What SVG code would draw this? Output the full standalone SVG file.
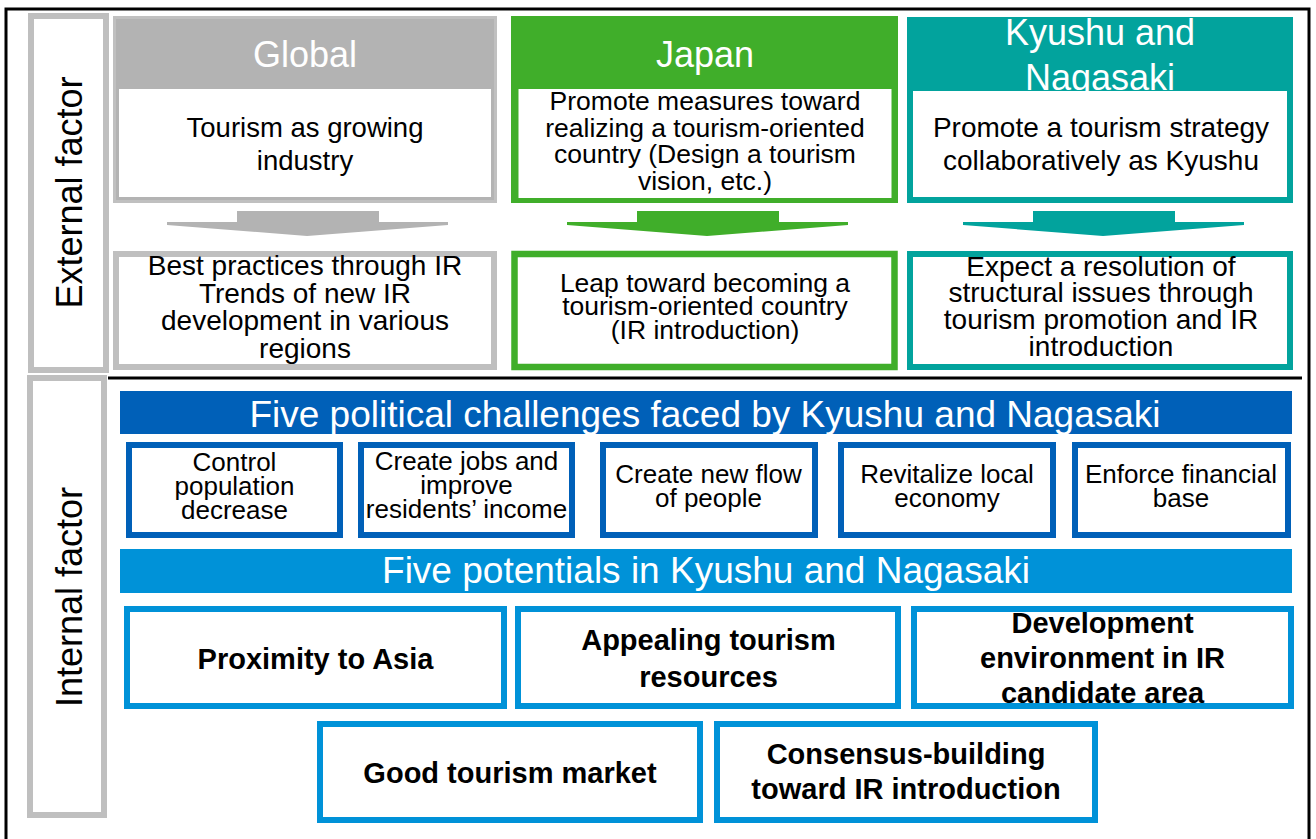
<svg xmlns="http://www.w3.org/2000/svg" width="1316" height="839" viewBox="0 0 1316 839">
<style>
text{font-family:"Liberation Sans",Arial,sans-serif;text-anchor:middle;}
.hd{fill:#fff;font-size:36px;}
.bar{fill:#fff;font-size:37px;}
.lbl{fill:#000;font-size:36px;}
.ch{fill:#000;font-size:26px;}
.pt{fill:#000;font-size:29px;font-weight:bold;}
.wb{fill:#fff;}
.gray{fill:#fff;stroke:#bfbfbf;stroke-width:6;}
.cb{fill:none;stroke:#0060b8;stroke-width:6;}
.pb{fill:none;stroke:#0092d8;stroke-width:6;}
</style>
<defs>
<polygon id="arr" points="70,0 212,0 212,11 281,11 281,14 140,25 0,14 0,11 70,11"/>
</defs>
<rect width="1316" height="839" fill="#fff"/>
<rect x="6" y="9" width="1303" height="840" fill="none" stroke="#000" stroke-width="3"/>

<g id="external-label">
<rect class="gray" x="31" y="16" width="75" height="354"/>
<text class="lbl" transform="translate(82,192.5) rotate(-90)">External factor</text>
</g>
<g id="internal-label">
<rect class="gray" x="30" y="378" width="74" height="437"/>
<text class="lbl" transform="translate(82,597) rotate(-90)">Internal factor</text>
</g>
<g id="divider">
<line x1="108" y1="378" x2="1302" y2="378" stroke="#000" stroke-width="3"/>
</g>

<g id="global-top">
<rect x="114.5" y="17.5" width="381" height="184" fill="#b3b3b3" stroke="#c0c0c0" stroke-width="3"/>
<text class="hd" x="305" y="67">Global</text>
<rect class="wb" x="119" y="89" width="372" height="108"/>
<text font-size="27.5" x="305" y="137">Tourism as growing</text>
<text font-size="27.5" x="305" y="170">industry</text>
</g>
<g id="japan-top">
<rect x="511" y="16" width="387" height="187" fill="#40ae2a"/>
<text class="hd" x="705" y="67">Japan</text>
<rect class="wb" x="518.5" y="89" width="373" height="109"/>
<g font-size="26.5">
<text x="705" y="110">Promote measures toward</text>
<text x="705" y="136.5">realizing a tourism-oriented</text>
<text x="705" y="163">country (Design a tourism</text>
<text x="705" y="189.5">vision, etc.)</text>
</g>
</g>
<g id="kyushu-top">
<rect x="907" y="17" width="386" height="186" fill="#02a39d"/>
<text class="hd" x="1100" y="45">Kyushu and</text>
<text class="hd" x="1100" y="90">Nagasaki</text>
<rect class="wb" x="913" y="91" width="374" height="106"/>
<text font-size="28" x="1101" y="137">Promote a tourism strategy</text>
<text font-size="28" x="1101" y="170">collaboratively as Kyushu</text>
</g>

<g id="connectors">
<use href="#arr" x="167" y="211" fill="#b3b3b3"/>
<use href="#arr" x="567" y="211" fill="#40ae2a"/>
<use href="#arr" x="963" y="211" fill="#02a39d"/>
</g>

<g id="global-bottom">
<rect x="116" y="254" width="378" height="113" fill="#fff" stroke="#bfbfbf" stroke-width="6"/>
<g font-size="28">
<text x="305" y="275">Best practices through IR</text>
<text x="305" y="303">Trends of new IR</text>
<text x="305" y="330">development in various</text>
<text x="305" y="358">regions</text>
</g>
</g>
<g id="japan-bottom">
<rect x="514.5" y="254" width="380" height="113" fill="#fff" stroke="#40ae2a" stroke-width="6.5"/>
<g font-size="26.5">
<text x="705" y="292">Leap toward becoming a</text>
<text x="705" y="315">tourism-oriented country</text>
<text x="705" y="339">(IR introduction)</text>
</g>
</g>
<g id="kyushu-bottom">
<rect x="910" y="254" width="380" height="113" fill="#fff" stroke="#02a39d" stroke-width="6"/>
<g font-size="28">
<text x="1101" y="276">Expect a resolution of</text>
<text x="1101" y="302">structural issues through</text>
<text x="1101" y="329">tourism promotion and IR</text>
<text x="1101" y="356">introduction</text>
</g>
</g>

<g id="challenges-header">
<rect x="120" y="391" width="1172" height="43" fill="#0060b8"/>
<text class="bar" x="705" y="427">Five political challenges faced by Kyushu and Nagasaki</text>
</g>
<g id="challenge-1">
<rect x="129" y="445" width="211" height="90" fill="#fff"/>
<text class="ch" x="234.5" y="471">Control</text>
<text class="ch" x="234.5" y="495">population</text>
<text class="ch" x="234.5" y="519">decrease</text>
<rect class="cb" x="129" y="445" width="211" height="90"/>
</g>
<g id="challenge-2">
<rect x="361" y="445" width="211" height="90" fill="#fff"/>
<text class="ch" x="466.5" y="470">Create jobs and</text>
<text class="ch" x="466.5" y="494">improve</text>
<text class="ch" x="466.5" y="518">residents’ income</text>
<rect class="cb" x="361" y="445" width="211" height="90"/>
</g>
<g id="challenge-3">
<rect x="603" y="445" width="212" height="90" fill="#fff"/>
<text class="ch" x="708.5" y="483">Create new flow</text>
<text class="ch" x="708.5" y="507">of people</text>
<rect class="cb" x="603" y="445" width="212" height="90"/>
</g>
<g id="challenge-4">
<rect x="841" y="445" width="212" height="90" fill="#fff"/>
<text class="ch" x="947" y="483">Revitalize local</text>
<text class="ch" x="947" y="507">economy</text>
<rect class="cb" x="841" y="445" width="212" height="90"/>
</g>
<g id="challenge-5">
<rect x="1075" y="445" width="213" height="90" fill="#fff"/>
<text class="ch" x="1181" y="483">Enforce financial</text>
<text class="ch" x="1181" y="507">base</text>
<rect class="cb" x="1075" y="445" width="213" height="90"/>
</g>

<g id="potentials-header">
<rect x="120" y="549" width="1172" height="44" fill="#0092d8"/>
<text class="bar" x="706" y="583">Five potentials in Kyushu and Nagasaki</text>
</g>
<g id="potential-1">
<rect x="127" y="609" width="377" height="97" fill="#fff"/>
<text class="pt" x="315.5" y="669">Proximity to Asia</text>
<rect class="pb" x="127" y="609" width="377" height="97"/>
</g>
<g id="potential-2">
<rect x="518" y="609" width="380" height="97" fill="#fff"/>
<text class="pt" x="708.5" y="650">Appealing tourism</text>
<text class="pt" x="708.5" y="687">resources</text>
<rect class="pb" x="518" y="609" width="380" height="97"/>
</g>
<g id="potential-3">
<rect x="914" y="609" width="377" height="97" fill="#fff"/>
<text class="pt" x="1102.5" y="633">Development</text>
<text class="pt" x="1102.5" y="668">environment in IR</text>
<text class="pt" x="1102.5" y="703">candidate area</text>
<rect class="pb" x="914" y="609" width="377" height="97"/>
</g>
<g id="potential-4">
<rect x="320" y="724" width="380" height="96" fill="#fff"/>
<text class="pt" x="510" y="783">Good tourism market</text>
<rect class="pb" x="320" y="724" width="380" height="96"/>
</g>
<g id="potential-5">
<rect x="717" y="724" width="378" height="96" fill="#fff"/>
<text class="pt" x="906" y="764">Consensus-building</text>
<text class="pt" x="906" y="799">toward IR introduction</text>
<rect class="pb" x="717" y="724" width="378" height="96"/>
</g>
</svg>
